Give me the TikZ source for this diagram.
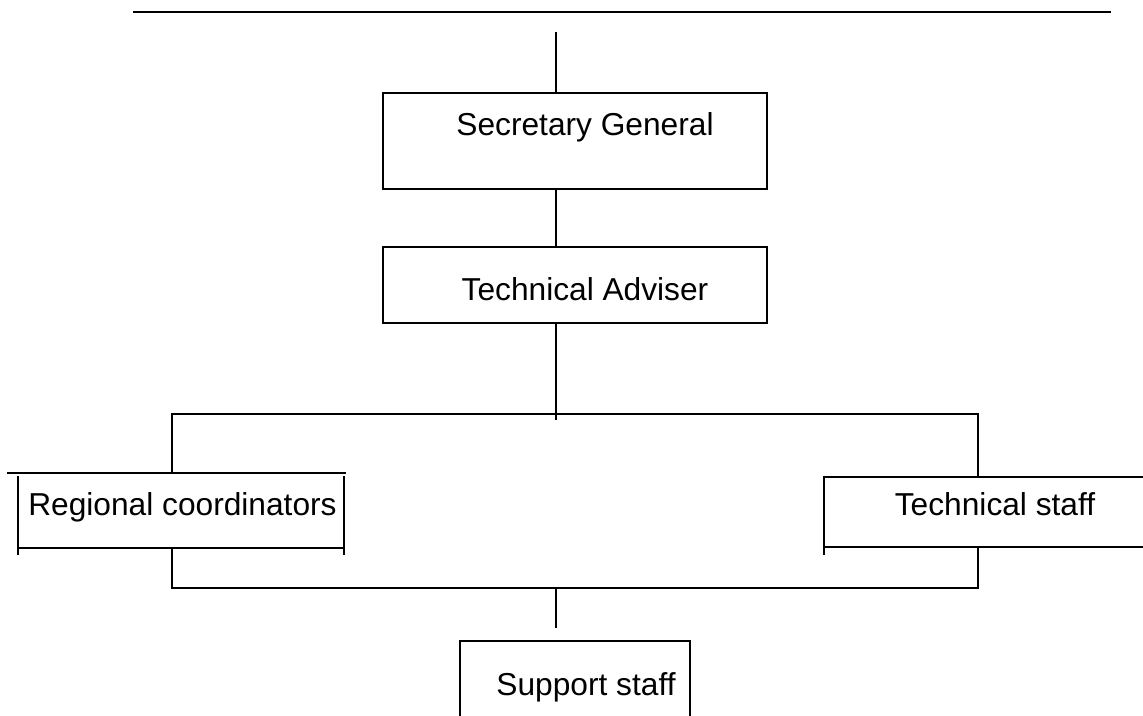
\documentclass[tikz,border=0pt]{standalone}
\usepackage{fontspec}
\setmainfont{Liberation Sans}
\begin{document}
\begin{tikzpicture}[x=1pt,y=-1pt,
  ln/.style={line width=1.4pt,line cap=rect},
  boxnode/.style={draw,line width=1.4pt,inner sep=0pt},
  lbl/.style={inner sep=0pt,anchor=base,font=\fontsize{31.7}{36}\selectfont}]
\useasboundingbox (0,0) rectangle (1143,715);
\clip (0,0) rectangle (1143,715);
% top rule
\coordinate (tl) at (133,12);
\coordinate (tr) at (1111,12);
\draw[line width=2pt] (tl) -- (tr);
% Secretary General
\node[boxnode,minimum width=384pt,minimum height=96pt] (sg) at (575,141) {};
\node[lbl] (sgl) at (585,135) {Secretary General};
% Technical Adviser
\node[boxnode,minimum width=384pt,minimum height=76pt] (ta) at (575,285) {};
\node[lbl] (tal) at (585,300) {Technical Adviser};
% connectors top
\coordinate (t0) at (556,33);
\draw[ln] (t0) -- (t0 |- sg.north);
\draw[ln] (t0 |- sg.south) -- (t0 |- ta.north);
\coordinate (bar1) at (556,419);
\draw[ln] (t0 |- ta.south) -- (bar1);
\coordinate (b1l) at (172,414);
\coordinate (b1r) at (978,414);
\draw[ln] (b1l) -- (b1r);
% Regional coordinators (open box)
\coordinate (rctop) at (172,473);
\draw[ln] (b1l) -- (rctop);
\draw[ln] (8,473) -- (345,473);
\draw[ln] (18,477) -- (18,554);
\draw[ln] (344,477) -- (344,554);
\draw[ln] (18,548) -- (344,548);
\node[lbl] (rcl) at (182.5,515) {Regional coordinators};
% Technical staff (open box)
\coordinate (tstop) at (978,477);
\draw[ln] (b1r) -- (tstop);
\draw[ln] (824,477) -- (1160,477);
\draw[ln] (824,477) -- (824,554);
\draw[ln] (824,547) -- (1160,547);
\node[lbl] (tsl) at (995,515) {Technical staff};
% lower bar
\coordinate (rcbot) at (172,548);
\coordinate (tsbot) at (978,547);
\coordinate (b2l) at (172,588);
\coordinate (b2r) at (978,588);
\draw[ln] (rcbot) -- (b2l);
\draw[ln] (tsbot) -- (b2r);
\draw[ln] (b2l) -- (b2r);
\coordinate (b2m) at (556,588);
\coordinate (ssup) at (556,627);
\draw[ln] (b2m) -- (ssup);
% Support staff (box cut by page edge)
\node[boxnode,minimum width=230pt,minimum height=120pt] (ss) at (575,701) {};
\node[lbl] (ssl) at (586,695) {Support staff};
\end{tikzpicture}
\end{document}
